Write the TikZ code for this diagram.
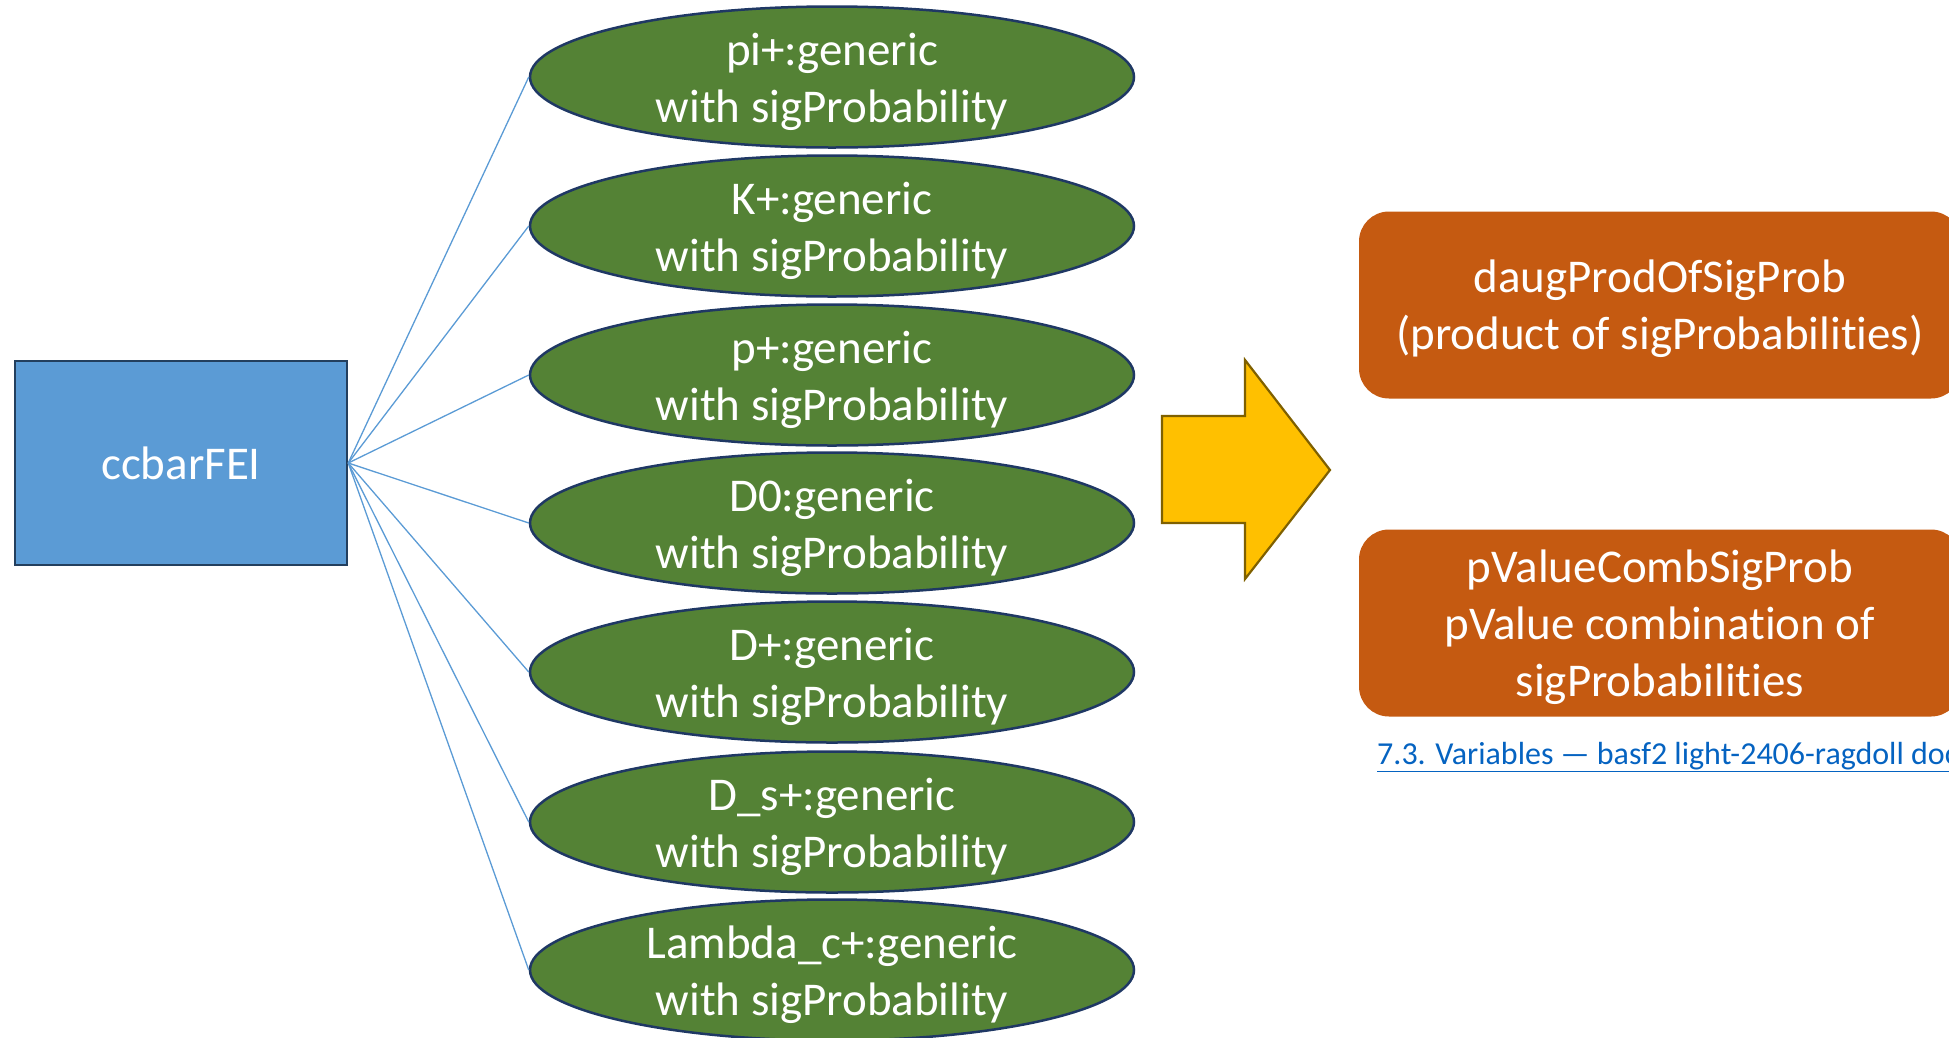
\documentclass[tikz,border=0pt]{standalone}
\usepackage{fontspec}
\setmainfont{Carlito}[Ligatures={NoCommon}]
\usetikzlibrary{shapes.geometric}
\definecolor{rectblue}{HTML}{5B9BD5}
\definecolor{rectedge}{HTML}{233F5E}
\definecolor{ellgreen}{HTML}{548235}
\definecolor{elledge}{HTML}{1F3864}
\definecolor{arrowfill}{HTML}{FFC000}
\definecolor{arrowedge}{HTML}{7F6000}
\definecolor{boxorange}{HTML}{C55A11}
\definecolor{linkblue}{HTML}{0563C1}
\tikzset{
  bigfont/.style={font=\fontsize{47}{57}\selectfont},
  srcbox/.style={draw=rectedge, line width=2.5pt, fill=rectblue, rectangle,
    minimum width=332pt, minimum height=204pt, inner sep=0pt, text=white, bigfont},
  particle/.style={draw=elledge, line width=2.5pt, fill=ellgreen, ellipse,
    minimum width=604pt, minimum height=141pt, inner sep=0pt},
  ptext/.style={text=white, align=center, bigfont, inner sep=0pt, yshift=-5pt},
  conn/.style={draw=rectblue, line width=1.3pt},
  bigarrow/.style={draw=arrowedge, line width=2.2pt, fill=arrowfill, line join=miter},
  varbox/.style={fill=boxorange, rectangle, rounded corners=30pt,
    minimum width=602pt, minimum height=187pt, inner sep=0pt},
  vtext/.style={text=white, align=center, bigfont, inner sep=0pt, yshift=-4pt},
  linktext/.style={text=linkblue, font=\fontsize{32}{38}\selectfont, inner sep=0pt, anchor=base west}
}
\begin{document}
\begin{tikzpicture}[x=1pt, y=-1pt]
\path[use as bounding box] (0,0) rectangle (1949,1037);
\clip (0,0) rectangle (1949,1037);

\node[srcbox] (src) at (181,463) {ccbarFEI};

\node[particle] (e1) at (832,77) {};
\node[particle] (e2) at (832,226) {};
\node[particle] (e3) at (832,375) {};
\node[particle] (e4) at (832,523) {};
\node[particle] (e5) at (832,672) {};
\node[particle] (e6) at (832,822) {};
\node[particle] (e7) at (832,970) {};

\node[ptext] (t1) at (e1.center) {pi+:generic\\with sigProbability};
\node[ptext] (t2) at (e2.center) {K+:generic\\with sigProbability};
\node[ptext] (t3) at (e3.center) {p+:generic\\with sigProbability};
\node[ptext] (t4) at (e4.center) {D0:generic\\with sigProbability};
\node[ptext] (t5) at (e5.center) {D+:generic\\with sigProbability};
\node[ptext] (t6) at (e6.center) {D\_s+:generic\\with sigProbability};
\node[ptext] (t7) at (e7.center) {Lambda\_c+:generic\\with sigProbability};

\foreach \e in {e1,e2,e3,e4,e5,e6,e7}
  \draw[conn] (src.east) -- (\e.west);

\draw[bigarrow] (1162,416) -- (1245,416) -- (1245,360) -- (1330,470)
  -- (1245,579) -- (1245,523) -- (1162,523) -- cycle;

\node[varbox] (v1) at (1660,305) {};
\node[vtext] (v1t) at (v1.center) {daugProdOfSigProb\\(product of sigProbabilities)};
\node[varbox] (v2) at (1660,623) {};
\node[vtext] (v2t) at (v2.center) {pValueCombSigProb\\pValue combination of\\sigProbabilities};

\node[linktext] (link) at (1377,764) {\underline{7.3. Variables — basf2 light-2406-ragdoll documentation}};
\end{tikzpicture}
\end{document}
